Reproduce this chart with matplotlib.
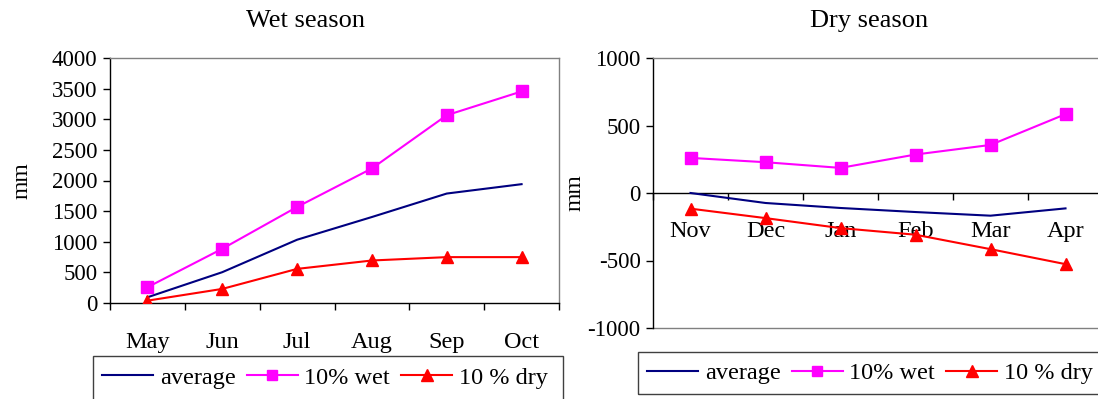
import matplotlib
matplotlib.use("Agg")
import matplotlib.pyplot as plt
from matplotlib.patches import Rectangle
from matplotlib.lines import Line2D

# ---- data ----
wet_months = ["May", "Jun", "Jul", "Aug", "Sep", "Oct"]
wet_average = [93, 503, 1033, 1404, 1787, 1940]
wet_10wet = [257, 885, 1568, 2197, 3066, 3454]
wet_10dry = [38, 230, 557, 694, 749, 749]

dry_months = ["Nov", "Dec", "Jan", "Feb", "Mar", "Apr"]
dry_average = [0, -74, -111, -141, -168, -114]
dry_10wet = [260, 228, 186, 285, 356, 584]
dry_10dry = [-116, -186, -260, -309, -416, -527]

series_labels = ["average", "10% wet", "10 % dry"]

W, H = 1098, 399
plt.rcParams['font.family'] = ['Liberation Serif', 'DejaVu Serif']
plt.rcParams['axes.unicode_minus'] = False
fig = plt.figure(figsize=(W / 100, H / 100), dpi=100)

NAVY = "#000080"
MAG = "#FF00FF"
RED = "#FF0000"
GRAY = "#808080"


def fx(px):
    return px / W


def fy(py):
    return 1 - py / H


def make_ax(x0, x1, y0, y1):
    return fig.add_axes([fx(x0), fy(y1), fx(x1) - fx(x0), fy(y0) - fy(y1)])


def draw_series(ax, avg, wet, dry):
    xs = [i + 0.5 for i in range(len(avg))]
    ax.plot(xs, avg, color=NAVY, lw=1.5, zorder=3)
    ax.plot(xs, wet, color=MAG, lw=1.5, marker='s', ms=8, zorder=3)
    ax.plot(xs, dry, color=RED, lw=1.5, marker='^', ms=9, zorder=3)


def style_x(ax, labels, pad):
    n = len(labels)
    ax.set_xlim(0, n)
    ax.set_xticks([i + 0.5 for i in range(n)])
    ax.set_xticklabels(labels)
    ax.set_xticks(range(n + 1), minor=True)
    ax.tick_params(axis='x', which='major', length=0, pad=pad, labelsize=17.5)
    ax.tick_params(axis='x', which='minor', length=5, width=1, direction='out', color='black')
    ax.tick_params(axis='y', length=5, width=1, direction='out', labelsize=16.5, pad=4)


# ---- Left: wet season ----
ax1 = make_ax(110, 559, 58, 303)
draw_series(ax1, wet_average, wet_10wet, wet_10dry)
style_x(ax1, wet_months, 21)
ax1.set_ylim(0, 4000)
ax1.set_yticks(range(0, 4001, 500))
for s in ['top', 'right']:
    ax1.spines[s].set_color(GRAY)
for s in ['left', 'bottom']:
    ax1.spines[s].set_color('black')
for s in ax1.spines.values():
    s.set_linewidth(1)
ax1.set_ylabel("mm", fontsize=17, labelpad=14)
fig.text(fx(305), fy(21), "Wet season", fontsize=19, ha='center', va='center')

# ---- Right: dry season ----
ax2 = make_ax(653, 1103, 58, 328)
ax2.spines['bottom'].set_position(('data', 0))
draw_series(ax2, dry_average, dry_10wet, dry_10dry)
ax2.set_ylim(-1000, 1000)
ax2.set_yticks(range(-1000, 1001, 500))
style_x(ax2, dry_months, 20)
ax2.spines['bottom'].set_color('black')
ax2.spines['left'].set_color('black')
ax2.spines['top'].set_color(GRAY)
ax2.spines['right'].set_color(GRAY)
for s in ax2.spines.values():
    s.set_linewidth(1)
ax2.add_line(Line2D([0, 1], [0, 0], transform=ax2.transAxes, color=GRAY, lw=1, clip_on=False))
ax2.set_ylabel("mm", fontsize=17, labelpad=1)
fig.text(fx(869), fy(21), "Dry season", fontsize=19, ha='center', va='center')


# ---- Legends ----
def make_legend(x_start, y_center, box):
    handles = [
        Line2D([], [], color=NAVY, lw=1.5),
        Line2D([], [], color=MAG, lw=1.5, marker='s', ms=7),
        Line2D([], [], color=RED, lw=1.5, marker='^', ms=8),
    ]
    fig.legend(handles, series_labels, loc='center left',
               bbox_to_anchor=(fx(x_start), fy(y_center)), ncol=3, frameon=False,
               fontsize=17.5, handlelength=2.1, handletextpad=0.28,
               columnspacing=0.45, borderpad=0, borderaxespad=0)
    bx0, by0, bx1, by1 = box
    fig.patches.append(Rectangle((fx(bx0), fy(by1)), fx(bx1) - fx(bx0), fy(by0) - fy(by1),
                                 transform=fig.transFigure, fill=False,
                                 edgecolor='#404040', lw=1))


make_legend(102, 378, (93, 356, 563, 402))
make_legend(647, 373, (638, 352, 1102, 394))

fig.savefig("out.png", dpi=100)
